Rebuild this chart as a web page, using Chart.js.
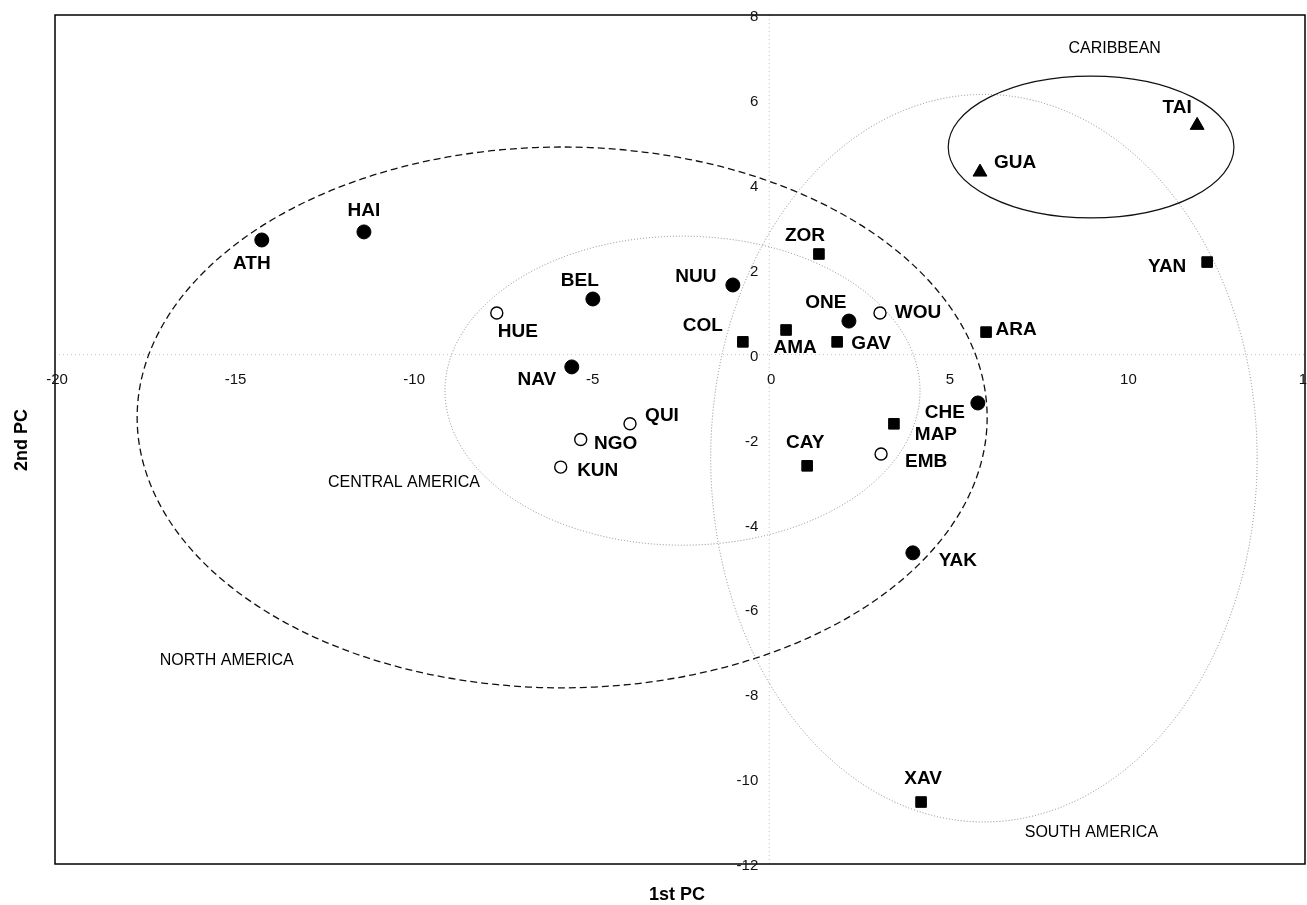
<!DOCTYPE html>
<html>
<head>
<meta charset="utf-8">
<title>PCA populations</title>
<script src="https://cdn.jsdelivr.net/npm/chart.js@4/dist/chart.umd.min.js"></script>
<style>
  html, body { margin: 0; padding: 0; background: #fff; overflow: hidden; }
  #wrap { width: 1307px; height: 905px; }
  canvas { display: block; }
</style>
</head>
<body>
<div id="wrap"><canvas id="pcaChart" width="1307" height="905"></canvas></div>
<script>
// tick values
const xTicks = [-20, -15, -10, -5, 0, 5, 10, 15];
const yTicks = [8, 6, 4, 2, 0, -2, -4, -6, -8, -10, -12];

// filled circles
const solidCircleLabels = ["ATH", "HAI", "BEL", "NAV", "NUU", "ONE", "CHE", "YAK"];
const solidCircleX = [-14.21, -11.35, -4.94, -5.53, -1.02, 2.23, 5.84, 4.02];
const solidCircleY = [2.70, 2.89, 1.31, -0.29, 1.64, 0.79, -1.14, -4.67];

// open circles
const openCircleLabels = ["HUE", "QUI", "NGO", "KUN", "WOU", "EMB"];
const openCircleX = [-7.63, -3.90, -5.28, -5.84, 3.10, 3.13];
const openCircleY = [0.98, -1.63, -2.00, -2.65, 0.98, -2.34];

// filled squares
const squareLabels = ["ZOR", "COL", "AMA", "GAV", "ARA", "MAP", "CAY", "YAN", "XAV"];
const squareX = [1.39, -0.74, 0.47, 1.90, 6.07, 3.49, 1.06, 12.26, 4.25];
const squareY = [2.37, 0.30, 0.58, 0.30, 0.53, -1.63, -2.62, 2.18, -10.54];

// triangles
const triangleLabels = ["GUA", "TAI"];
const triangleX = [5.90, 11.98];
const triangleY = [4.30, 5.40];

// group ellipses (centre and half-axes in PC units)
const regionNames = ["NORTH AMERICA", "CENTRAL AMERICA", "SOUTH AMERICA", "CARIBBEAN"];
const regionCx = [-5.80, -2.43, 6.01, 9.01];
const regionCy = [-1.48, -0.85, -2.44, 4.89];
const regionRx = [11.90, 6.65, 7.65, 4.00];
const regionRy = [6.37, 3.64, 8.57, 1.67];
const regionLabelX = [-15.19, -10.23, 9.02, 9.67];
const regionLabelY = [-7.22, -3.01, -11.26, 7.22];

// how the text sits next to each marker (px)
const labelOffset = {
  ATH: [-10, 24], HAI: [0, -21], BEL: [-13, -18], NAV: [-35, 13], NUU: [-37, -8],
  ONE: [-23, -18], CHE: [-33, 10], YAK: [45, 8],
  HUE: [21, 19], QUI: [32, -8], NGO: [35, 4], KUN: [37, 4], WOU: [38, 0], EMB: [45, 8],
  ZOR: [-14, -18], COL: [-40, -16], AMA: [9, 18], GAV: [34, 2], ARA: [30, -2],
  MAP: [42, 11], CAY: [-2, -23], YAN: [-40, 5], XAV: [2, -23],
  GUA: [35, -9], TAI: [-20, -18]
};
const ellipseStyle = [
  { color: "#111", dash: [7, 4], width: 1.3 },
  { color: "#888", dash: [1, 2], width: 1 },
  { color: "#888", dash: [1, 2], width: 1 },
  { color: "#111", dash: [], width: 1.2 }
];

function toPoints(xs, ys, names) {
  return xs.map((x, i) => ({ x: x, y: ys[i], name: names[i] }));
}

const pcaPlugin = {
  id: "pcaDecor",
  beforeDatasetsDraw(chart) {
    const { ctx, chartArea: a, scales: { x, y } } = chart;
    ctx.save();
    // faint axes through the origin
    ctx.strokeStyle = "#c4c4c4";
    ctx.lineWidth = 1;
    ctx.setLineDash([1, 3]);
    ctx.beginPath();
    ctx.moveTo(x.getPixelForValue(0), a.top);
    ctx.lineTo(x.getPixelForValue(0), a.bottom);
    ctx.moveTo(a.left, y.getPixelForValue(0));
    ctx.lineTo(a.right, y.getPixelForValue(0));
    ctx.stroke();

    // ellipses
    regionNames.forEach((n, i) => {
      const cx = x.getPixelForValue(regionCx[i]);
      const cy = y.getPixelForValue(regionCy[i]);
      const rx = Math.abs(x.getPixelForValue(regionCx[i] + regionRx[i]) - cx);
      const ry = Math.abs(y.getPixelForValue(regionCy[i] + regionRy[i]) - cy);
      ctx.strokeStyle = ellipseStyle[i].color;
      ctx.lineWidth = ellipseStyle[i].width;
      ctx.setLineDash(ellipseStyle[i].dash);
      ctx.beginPath();
      ctx.ellipse(cx, cy, rx, ry, 0, 0, Math.PI * 2);
      ctx.stroke();
    });

    // frame
    ctx.setLineDash([]);
    ctx.strokeStyle = "#000";
    ctx.lineWidth = 1.5;
    ctx.strokeRect(a.left, a.top, a.right - a.left, a.bottom - a.top);
    ctx.restore();
  },
  afterDatasetsDraw(chart) {
    const { ctx, scales: { x, y } } = chart;
    ctx.save();
    ctx.fillStyle = "#000";
    ctx.textAlign = "center";
    ctx.textBaseline = "middle";

    // marker names
    ctx.font = "bold 19px 'Liberation Sans', Arial, sans-serif";
    chart.data.datasets.forEach((ds) => {
      ds.data.forEach((p) => {
        const off = labelOffset[p.name] || [0, -18];
        ctx.fillText(p.name, x.getPixelForValue(p.x) + off[0], y.getPixelForValue(p.y) + off[1]);
      });
    });

    // group names
    ctx.font = "16px 'Liberation Sans', Arial, sans-serif";
    regionNames.forEach((n, i) => {
      ctx.fillText(n, x.getPixelForValue(regionLabelX[i]), y.getPixelForValue(regionLabelY[i]));
    });

    // tick labels at the origin axes
    ctx.font = "15px 'Liberation Sans', Arial, sans-serif";
    ctx.fillStyle = "#111";
    const y0 = y.getPixelForValue(0);
    xTicks.forEach((v) => {
      ctx.fillText(String(v), x.getPixelForValue(v) + 2, y0 + 25);
    });
    ctx.textAlign = "right";
    const x0 = x.getPixelForValue(0);
    yTicks.forEach((v) => {
      ctx.fillText(String(v), x0 - 11, y.getPixelForValue(v) + 2);
    });

    // axis titles
    ctx.fillStyle = "#000";
    ctx.textAlign = "center";
    ctx.font = "bold 18px 'Liberation Sans', Arial, sans-serif";
    ctx.fillText("1st PC", 677, 895);
    ctx.translate(22, 440);
    ctx.rotate(-Math.PI / 2);
    ctx.fillText("2nd PC", 0, 0);
    ctx.restore();
  }
};

new Chart(document.getElementById("pcaChart"), {
  type: "scatter",
  data: {
    datasets: [
      {
        label: "filled circles",
        data: toPoints(solidCircleX, solidCircleY, solidCircleLabels),
        pointStyle: "circle",
        pointRadius: 7,
        backgroundColor: "#000",
        borderColor: "#000",
        borderWidth: 1
      },
      {
        label: "open circles",
        data: toPoints(openCircleX, openCircleY, openCircleLabels),
        pointStyle: "circle",
        pointRadius: 6,
        backgroundColor: "#fff",
        borderColor: "#000",
        borderWidth: 1.4
      },
      {
        label: "squares",
        data: toPoints(squareX, squareY, squareLabels),
        pointStyle: "rect",
        pointRadius: 7.5,
        backgroundColor: "#000",
        borderColor: "#000",
        borderWidth: 1
      },
      {
        label: "triangles",
        data: toPoints(triangleX, triangleY, triangleLabels),
        pointStyle: "triangle",
        pointRadius: 8,
        backgroundColor: "#000",
        borderColor: "#000",
        borderWidth: 1
      }
    ]
  },
  options: {
    responsive: false,
    animation: false,
    layout: { autoPadding: false, padding: { left: 55, right: 2, top: 15, bottom: 41 } },
    plugins: { legend: { display: false }, tooltip: { enabled: false } },
    scales: {
      x: { type: "linear", min: -20, max: 15, display: false },
      y: { type: "linear", min: -12, max: 8, display: false }
    }
  },
  plugins: [pcaPlugin]
});
</script>
</body>
</html>
